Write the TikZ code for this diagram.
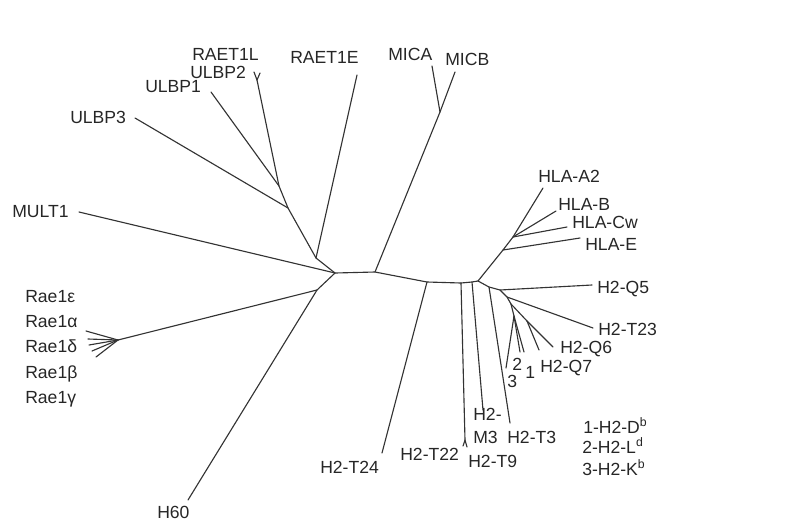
\documentclass[tikz,border=0pt]{standalone}
\usepackage{fontspec}
\setmainfont{Liberation Sans}
\usepackage{xcolor}
\usepackage{tikz}
\tikzset {
    branch/.style={draw=black!80, line width=0.8pt, line cap=round,
        line join=round},
    taxon/.style={font=\fontsize{12.5}{14}\selectfont, text=black!85,
        inner sep=0pt, anchor=base west},
    leaf/.style={inner sep=0pt}
}

\begin{document}
\begin{tikzpicture}[x=0.025cm, y=-0.025cm]

    \useasboundingbox (0,0) rectangle (808,521);

    % inner nodes of the tree
    \coordinate (hub)   at (335,273);
    \coordinate (nul)   at (316,258);
    \coordinate (nub3)  at (288,208);
    \coordinate (nub1)  at (279,186);
    \coordinate (nub2)  at (257,80);
    \coordinate (nrae)  at (317,290);
    \coordinate (nraef) at (118,340);
    \coordinate (nmic)  at (375,272);
    \coordinate (nmicf) at (440,112);
    \coordinate (nt24)  at (427,282);
    \coordinate (nt22)  at (461,283);
    \coordinate (nt22f) at (465,440);
    \coordinate (nm3)   at (472,282);
    \coordinate (nh)    at (478,281);
    \coordinate (nhla1) at (503,250);
    \coordinate (nhla2) at (513,237);
    \coordinate (nt3)   at (489,287);
    \coordinate (nq)    at (500,290);
    \coordinate (nq2)   at (507,297);
    \coordinate (nq3)   at (511,304);
    \coordinate (nk)    at (514,316);
    \coordinate (nq67)  at (527,321);

    % leaf ends
    \coordinate (traet1l) at (260,73);
    \coordinate (tulbp2)  at (254,72);
    \coordinate (tulbp1)  at (211,92);
    \coordinate (tulbp3)  at (135,118);
    \coordinate (traet1e) at (357,75);
    \coordinate (tmult1)  at (79,212);
    \coordinate (tre)     at (86,331);
    \coordinate (tra)     at (88,339);
    \coordinate (trd)     at (89,345);
    \coordinate (trb)     at (92,351);
    \coordinate (trg)     at (96,357);
    \coordinate (th60)    at (188,500);
    \coordinate (tmica)   at (432,66);
    \coordinate (tmicb)   at (455,72);
    \coordinate (tt24)    at (382,453);
    \coordinate (tt22)    at (463,446);
    \coordinate (tt9)     at (467,447);
    \coordinate (tm3)     at (483,410);
    \coordinate (tt3)     at (510,423);
    \coordinate (ta2)     at (543,188);
    \coordinate (tb)      at (556,211);
    \coordinate (tcw)     at (567,227);
    \coordinate (te)      at (580,238);
    \coordinate (tq5)     at (592,285);
    \coordinate (tt23)    at (593,328);
    \coordinate (tq6)     at (553,347);
    \coordinate (tq7)     at (539,350);
    \coordinate (tk3)     at (506,368);
    \coordinate (tk2)     at (520,352);
    \coordinate (tk1)     at (524,352);

    \draw[branch] (tmult1) -- (hub) -- (nmic) -- (nt24) -- (nt22) -- (nm3) -- (nh);
    \draw[branch] (hub) -- (nul) -- (nub3) -- (nub1) -- (nub2);
    \draw[branch] (nub2) -- (traet1l);
    \draw[branch] (nub2) -- (tulbp2);
    \draw[branch] (nub1) -- (tulbp1);
    \draw[branch] (nub3) -- (tulbp3);
    \draw[branch] (nul) -- (traet1e);

    \draw[branch] (hub) -- (nrae) -- (th60);
    \draw[branch] (nrae) -- (nraef);
    \draw[branch] (nraef) -- (tre);
    \draw[branch] (nraef) -- (tra);
    \draw[branch] (nraef) -- (trd);
    \draw[branch] (nraef) -- (trb);
    \draw[branch] (nraef) -- (trg);

    \draw[branch] (nmic) -- (nmicf) -- (tmica);
    \draw[branch] (nmicf) -- (tmicb);

    \draw[branch] (nt24) -- (tt24);
    \draw[branch] (nt22) -- (nt22f) -- (tt22);
    \draw[branch] (nt22f) -- (tt9);
    \draw[branch] (nm3) -- (tm3);

    \draw[branch] (nh) -- (nhla1) -- (nhla2) -- (ta2);
    \draw[branch] (nhla2) -- (tb);
    \draw[branch] (nhla2) -- (tcw);
    \draw[branch] (nhla1) -- (te);

    \draw[branch] (nh) -- (nt3) -- (nq) -- (tq5);
    \draw[branch] (nt3) -- (tt3);
    \draw[branch] (nq) -- (nq2) -- (tt23);
    \draw[branch] (nq2) -- (nq3) -- (nq67) -- (tq6);
    \draw[branch] (nq67) -- (tq7);
    \draw[branch] (nq3) -- (nk) -- (tk3);
    \draw[branch] (nk) -- (tk2);
    \draw[branch] (nk) -- (tk1);

    % labels
    \node[taxon] at (192,60)  (raet1l) {RAET1L};
    \node[taxon] at (190,78)  (ulbp2)  {ULBP2};
    \node[taxon] at (145,92)  (ulbp1)  {ULBP1};
    \node[taxon] at (70,123)  (ulbp3)  {ULBP3};
    \node[taxon] at (290,63)  (raet1e) {RAET1E};
    \node[taxon] at (12,217)  (mult1)  {MULT1};
    \node[taxon] at (388,60)  (mica)   {MICA};
    \node[taxon] at (445,65)  (micb)   {MICB};

    \node[taxon] at (25,302)  (rae1e)  {Rae1ε};
    \node[taxon] at (25,327)  (rae1a)  {Rae1α};
    \node[taxon] at (25,352)  (rae1d)  {Rae1δ};
    \node[taxon] at (25,378)  (rae1b)  {Rae1β};
    \node[taxon] at (25,403)  (rae1g)  {Rae1γ};
    \node[taxon] at (157,518) (h60)    {H60};

    \node[taxon] at (538,182) (hlaa2)  {HLA-A2};
    \node[taxon] at (558,210) (hlab)   {HLA-B};
    \node[taxon] at (572,228) (hlacw)  {HLA-Cw};
    \node[taxon] at (585,250) (hlae)   {HLA-E};

    \node[taxon] at (597,293) (h2q5)   {H2-Q5};
    \node[taxon] at (598,335) (h2t23)  {H2-T23};
    \node[taxon] at (560,353) (h2q6)   {H2-Q6};
    \node[taxon] at (540,372) (h2q7)   {H2-Q7};
    \node[taxon] at (512,370) (k2)     {2};
    \node[taxon] at (525,378) (k1)     {1};
    \node[taxon] at (507,387) (k3)     {3};

    \node[taxon] at (320,473) (h2t24)  {H2-T24};
    \node[taxon] at (400,460) (h2t22)  {H2-T22};
    \node[taxon] at (468,467) (h2t9)   {H2-T9};
    \node[taxon] at (473,420) (h2m3a)  {H2-};
    \node[taxon] at (473,443) (h2m3b)  {M3};
    \node[taxon] at (507,443) (h2t3)   {H2-T3};

    \node[taxon] at (583,433) (keyd)   {1-H2-D\textsuperscript{b}};
    \node[taxon] at (582,453) (keyl)   {2-H2-L\textsuperscript{d}};
    \node[taxon] at (582,475) (keyk)   {3-H2-K\textsuperscript{b}};

\end{tikzpicture}
\end{document}
